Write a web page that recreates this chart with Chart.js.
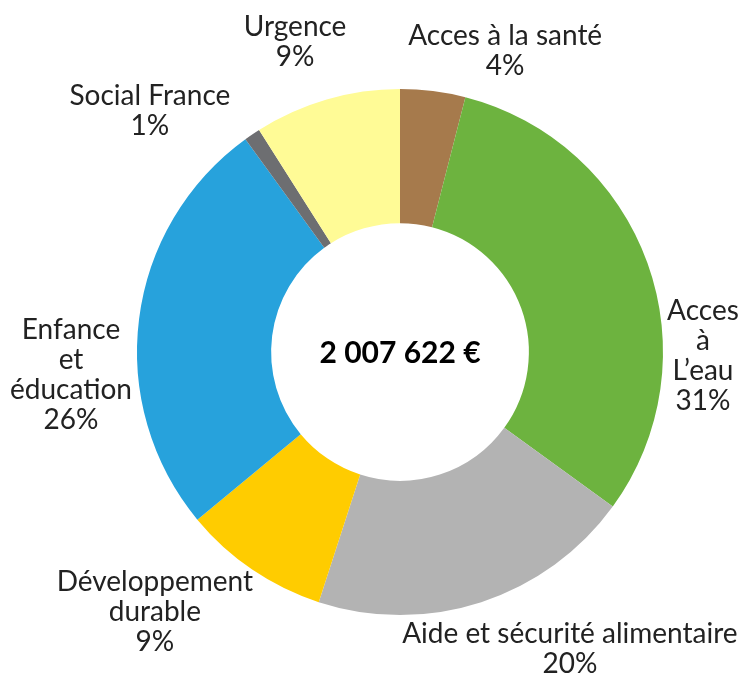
<!DOCTYPE html>
<html lang="fr">
<head>
    <meta charset="UTF-8">
    <title>Répartition des dons</title>
    <script src="https://cdn.jsdelivr.net/npm/chart.js"></script>
    <style>
        body { margin: 0; background: #fff; }
        #chart { display: block; }
    </style>
</head>
<body>
    <canvas id="chart" width="750" height="677"></canvas>

    <script>
        // Data (percent of total)
        const categories = ['Acces à la santé', 'Acces à L’eau', 'Aide et sécurité alimentaire',
            'Développement durable', 'Enfance et éducation', 'Social France', 'Urgence'];
        const shares = [4, 31, 20, 9, 26, 1, 9];
        const totalLabel = '2 007 622 €';

        // how each label is broken into lines in the picture
        const labelLines = [
            ['Acces à la santé'],
            ['Acces', 'à', 'L’eau'],
            ['Aide et sécurité alimentaire'],
            ['Développement', 'durable'],
            ['Enfance', 'et', 'éducation'],
            ['Social France'],
            ['Urgence']
        ];

        const colors = ['#a67a4c', '#6db33f', '#b3b3b3', '#ffcc00', '#27a2dc', '#6d6e71', '#fffb96'];

        // label block centres, in units of the outer radius from the chart centre
        const labelPos = [
            [0.40, -1.145], [1.152, 0.015], [0.646, 1.129], [-0.932, 0.989],
            [-1.251, 0.087], [-0.951, -0.916], [-0.399, -1.179]
        ];

        const FONT = 'Lato, "Open Sans", sans-serif';

        const labelPlugin = {
            id: 'outerLabels',
            afterDraw(chart) {
                const meta = chart.getDatasetMeta(0);
                const arc = meta.data[0];
                const cx = arc.x, cy = arc.y, R = arc.outerRadius;
                const ctx = chart.ctx;
                ctx.save();
                ctx.textAlign = 'center';
                ctx.textBaseline = 'middle';
                ctx.fillStyle = '#222';
                ctx.font = '28px ' + FONT;
                const lh = 30;
                labelLines.forEach((lines, i) => {
                    const all = lines.concat([shares[i] + '%']);
                    const bx = cx + labelPos[i][0] * R;
                    const by = cy + labelPos[i][1] * R;
                    const y0 = by - (all.length - 1) * lh / 2;
                    all.forEach((t, j) => ctx.fillText(t, bx, y0 + j * lh));
                });
                // total in the hole
                ctx.font = 'bold 30px ' + FONT;
                ctx.fillStyle = '#000';
                ctx.fillText(totalLabel, cx, cy + 1);
                ctx.restore();
            }
        };

        new Chart(document.getElementById('chart'), {
            type: 'doughnut',
            data: {
                labels: categories,
                datasets: [{
                    data: shares,
                    backgroundColor: colors,
                    borderWidth: 0
                }]
            },
            options: {
                responsive: false,
                animation: false,
                cutout: '49%',
                layout: { padding: { left: 137, right: 87, top: 89, bottom: 62 } },
                plugins: {
                    legend: { display: false },
                    tooltip: { enabled: false }
                }
            },
            plugins: [labelPlugin]
        });
    </script>
</body>
</html>
